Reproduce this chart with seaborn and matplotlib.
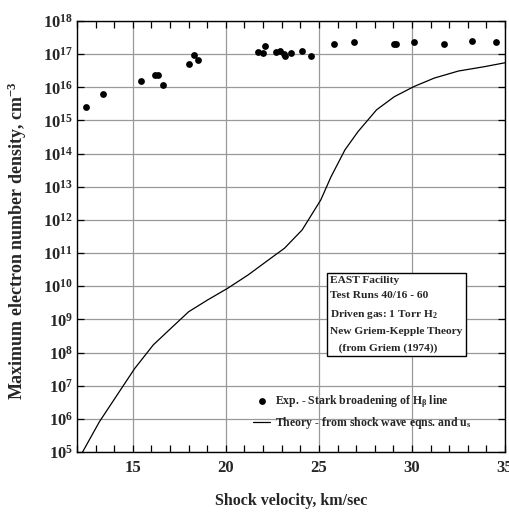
import numpy as np
import pandas as pd
import matplotlib
matplotlib.use("Agg")
import matplotlib.pyplot as plt
from matplotlib.ticker import FixedLocator, MultipleLocator, NullLocator, FixedFormatter
import seaborn as sns

# ---------------- data ----------------
exp_velocity = [12.5, 13.4, 15.45, 16.2, 16.35, 16.6, 18.0, 18.3, 18.5,
                21.7, 22.0, 22.1, 22.7, 22.9, 23.1, 23.2, 23.5, 24.1, 24.6,
                25.8, 26.9, 29.05, 29.15, 30.1, 31.7, 33.2, 34.5]
exp_density = [2.5e15, 6.2e15, 1.55e16, 2.3e16, 2.3e16, 1.2e16, 5.2e16, 9.3e16, 6.5e16,
               1.15e17, 1.12e17, 1.8e17, 1.17e17, 1.26e17, 1.0e17, 8.7e16, 1.07e17, 1.26e17, 9.1e16,
               2.0e17, 2.3e17, 2.0e17, 2.0e17, 2.25e17, 2.0e17, 2.45e17, 2.3e17]

theory_velocity = [12.3, 13.2, 14.1, 15.1, 16.1, 17.05, 18.0, 19.0, 20.1, 21.2, 22.4,
                   23.15, 24.1, 25.1, 25.65, 26.4, 27.1, 28.1, 29.05, 30.1, 31.2,
                   32.5, 33.9, 35.0]
theory_density = [1.0e5, 8.1e5, 4.7e6, 3.3e7, 1.7e8, 5.4e8, 1.7e9, 3.8e9, 8.7e9, 2.2e10, 6.9e10,
                  1.4e11, 5.0e11, 4.0e12, 2.0e13, 1.3e14, 4.6e14, 2.1e15, 5.2e15, 1.05e16, 1.9e16,
                  3.1e16, 4.2e16, 5.5e16]

x_ticks = [15, 20, 25, 30, 35]
x_tick_labels = ["15", "20", "25", "30", "35"]
y_exponents = [5, 6, 7, 8, 9, 10, 11, 12, 13, 14, 15, 16, 17, 18]
y_tick_labels = ["10$^{%d}$" % e for e in y_exponents]

info_lines = ["EAST Facility", "Test Runs 40/16 - 60", "Driven gas: 1 Torr H$_2$",
              "New Griem-Kepple Theory", "   (from Griem (1974))"]
exp_label = r"Exp. - Stark broadening of H$_\beta$ line"
theory_label = r"Theory - from shock wave eqns. and u$_s$"
x_label = "Shock velocity, km/sec"
y_label = "Maximum electron number density, cm$^{-3}$"

# ---------------- style ----------------
sns.set_style("ticks")
plt.rcParams["font.family"] = ["Liberation Serif", "DejaVu Serif"]
plt.rcParams["font.weight"] = "bold"
plt.rcParams["mathtext.fontset"] = "custom"
plt.rcParams["mathtext.rm"] = "Liberation Serif:bold"
plt.rcParams["mathtext.it"] = "Liberation Serif:bold"
plt.rcParams["mathtext.bf"] = "Liberation Serif:bold"
plt.rcParams["mathtext.default"] = "bf"

exp_df = pd.DataFrame({"velocity": exp_velocity, "density": exp_density})
th_df = pd.DataFrame({"velocity": theory_velocity, "density": theory_density})

fig = plt.figure(figsize=(5.09, 5.15), dpi=100)
ax = fig.add_axes([77 / 509, 1 - 452 / 515, 428 / 509, 431 / 515])

sns.scatterplot(data=exp_df, x="velocity", y="density", ax=ax, color="black",
                s=24, edgecolor="black", linewidth=0, label=exp_label, zorder=3)
sns.lineplot(data=th_df, x="velocity", y="density", ax=ax, color="black",
             linewidth=0.9, label=theory_label, zorder=3, sort=True)

ax.set_yscale("log")
ax.set_xlim(12, 35)
ax.set_ylim(1e5, 1e18)

ax.xaxis.set_major_locator(FixedLocator(x_ticks))
ax.xaxis.set_major_formatter(FixedFormatter(x_tick_labels))
ax.xaxis.set_minor_locator(MultipleLocator(1))
ax.yaxis.set_major_locator(FixedLocator([10.0 ** e for e in y_exponents]))
ax.yaxis.set_major_formatter(FixedFormatter(y_tick_labels))
ax.yaxis.set_minor_locator(NullLocator())

ax.tick_params(axis="both", which="both", direction="in", top=True, right=True,
               color="black", width=0.9)
ax.tick_params(axis="x", which="major", length=5, pad=6, labelsize=12)
ax.tick_params(axis="x", which="minor", length=5)
ax.tick_params(axis="y", which="major", length=5, pad=3, labelsize=12)

ax.grid(True, which="major", color="0.6", linewidth=0.9)
ax.set_axisbelow(True)
for sp in ax.spines.values():
    sp.set_color("black")
    sp.set_linewidth(1.0)
    sp.set_visible(True)

ax.set_xlabel(x_label, fontsize=11.5, fontweight="bold")
ax.set_ylabel(y_label, fontsize=13, fontweight="bold")
ax.xaxis.set_label_coords(0.5, -0.095)
ax.yaxis.set_label_coords(-0.112, 0.49)

ax.text(0.592, 0.409, "\n".join(info_lines), transform=ax.transAxes,
        ha="left", va="top", fontsize=8.2, fontweight="bold", linespacing=1.9,
        bbox=dict(boxstyle="square,pad=0.3", facecolor="white", edgecolor="black",
                  linewidth=1.0), zorder=4)

leg = ax.legend(loc="upper left", bbox_to_anchor=(0.412, 0.137), frameon=False,
                borderpad=0, borderaxespad=0, handlelength=1.4, handletextpad=0.45,
                labelspacing=0.45, prop={"size": 8.5, "weight": "bold"})

fig.savefig("out.png", dpi=100)
